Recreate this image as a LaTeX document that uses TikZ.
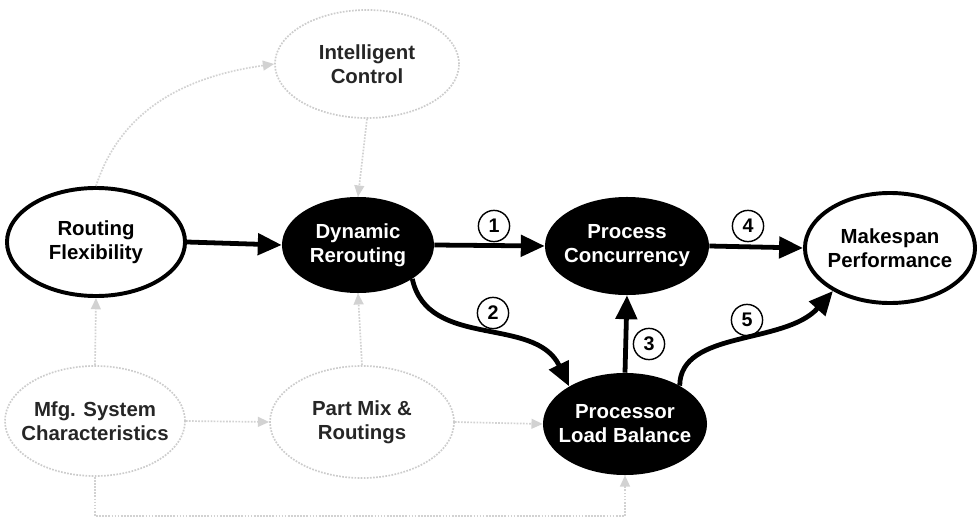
\documentclass[tikz,border=0pt]{standalone}
\usepackage{fontspec}
\setmainfont{Liberation Sans}
\usetikzlibrary{shapes.geometric,arrows.meta}

\begin{document}
\begin{tikzpicture}[x=0.025cm,y=-0.025cm,
    > = {Triangle[length=17pt,width=15pt]},
    every node/.style={font=\fontsize{14.5}{17}\selectfont\bfseries,align=center},
    factor/.style={ellipse,draw,line width=2.8pt,fill=white,inner sep=-8pt},
    dark/.style={ellipse,fill=black,text=white,inner sep=-8pt},
    faded/.style={ellipse,draw=gray!40,densely dotted,line width=1.2pt,text=black!85,inner sep=-8pt},
    link/.style={->,line width=3.4pt},
    weak/.style={-{Triangle[length=8pt,width=7pt]},draw=gray!35,densely dotted,line width=1.2pt},
    num/.style={circle,draw,line width=1pt,minimum size=0.78cm,inner sep=0pt,font=\fontsize{14}{14}\selectfont\bfseries}]
            \useasboundingbox (0,0) rectangle (980,526);
            % factors
            \node[faded, minimum width=4.6cm, minimum height=2.7cm] (ctrl) at (367,64) {Intelligent\\Control};
            \node[factor, minimum width=4.45cm, minimum height=2.7cm] (flex) at (96,242) {Routing\\Flexibility};
            \node[dark, minimum width=3.8cm, minimum height=2.4cm] (rerout) at (358,245) {Dynamic\\Rerouting};
            \node[dark, minimum width=4.1cm, minimum height=2.45cm] (conc) at (627,246) {Process\\Concurrency};
            \node[factor, minimum width=4.25cm, minimum height=2.75cm] (span) at (890,248) {Makespan\\Performance};
            \node[dark, minimum width=4.1cm, minimum height=2.55cm] (load) at (625,424) {Processor\\Load Balance};
            \node[faded, minimum width=4.5cm, minimum height=2.75cm] (mfg) at (95,421) {Mfg. System\\Characteristics};
            \node[faded, minimum width=4.6cm, minimum height=2.8cm] (mix) at (362,422) {Part Mix \&\\Routings};
            \coordinate (base) at (0,516);
            % faint links
            \draw[weak] (flex.north) to[out=72,in=188] (ctrl.west);
            \draw[weak] (ctrl.south) -- (rerout.north);
            \draw[weak] (mfg.north) -- (flex.south);
            \draw[weak] (mix.north) -- (rerout.south);
            \draw[weak] (mfg.east) -- (mix.west);
            \draw[weak] (mix.east) -- (load.west);
            \draw[weak] (mfg.south) -- (mfg.south |- base) -| (load.south);
            % main links
            \draw[link] (flex.east) -- (rerout.west);
            \draw[link] (rerout.east) -- (conc.west);
            \draw[link] (conc.east) -- (span.west);
            \draw[link] (load.north) -- (conc.south);
            \draw[link] (rerout.-32) .. controls (428,350) and (535,315) .. (load.146);
            \draw[link] (load.35) .. controls (680,330) and (785,345) .. (span.217);
            \node[num] (n1) at (494,226) {1};
            \node[num] (n2) at (493,313) {2};
            \node[num] (n3) at (649,344) {3};
            \node[num] (n4) at (748,226) {4};
            \node[num] (n5) at (747,320) {5};
        \end{tikzpicture}
\end{document}
